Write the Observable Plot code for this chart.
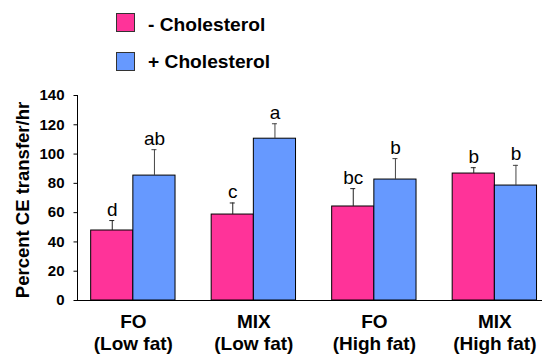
<!DOCTYPE html>
<html><head><meta charset="utf-8">
<script src="https://cdn.jsdelivr.net/npm/d3@7"></script>
<script src="https://cdn.jsdelivr.net/npm/@observablehq/plot@0.6"></script>
<style>
body{margin:0;background:#fff;font-family:"Liberation Sans",Arial,sans-serif;}
#wrap{width:542px;height:354px;position:relative;overflow:hidden;background:#fff}
#legend{position:relative;height:80px}
.sw{position:absolute;left:116px;width:19px;height:19px;border:1px solid #333;box-sizing:border-box}
.lt{position:absolute;left:148px;font-weight:bold;font-size:19.2px;line-height:1;white-space:nowrap;color:#000}
</style></head>
<body><div id="wrap"><div id="legend"></div><div id="chart"></div></div>
<script>
const diets = ["FO", "MIX", "FO", "MIX"];
const fats = ["(Low fat)", "(Low fat)", "(High fat)", "(High fat)"];
const seriesNames = ["- Cholesterol", "+ Cholesterol"];
const seriesColors = ["#FF3399", "#6699FF"];
const minusChol = [47.8, 58.7, 64.2, 86.7];
const minusSem = [6.8, 7.9, 12.2, 4.0];
const minusLetters = ["d", "c", "bc", "b"];
const plusChol = [85.3, 110.5, 82.6, 78.5];
const plusSem = [17.7, 10.2, 14.3, 13.8];
const plusLetters = ["ab", "a", "b", "b"];
const yTicks = [0, 20, 40, 60, 80, 100, 120, 140];
const yTitle = "Percent CE transfer/hr";

// legend
const legend = document.getElementById("legend");
seriesNames.forEach((name, i) => {
  const sw = document.createElement("div");
  sw.className = "sw";
  sw.style.top = (13 + i * 38.5) + "px";
  sw.style.background = seriesColors[i];
  legend.appendChild(sw);
  const t = document.createElement("div");
  t.className = "lt";
  t.style.top = (14.6 + i * 37.6) + "px";
  t.textContent = name;
  legend.appendChild(t);
});

const groups = diets.map((d, i) => d + " " + fats[i]);
const rows = [];
groups.forEach((g, i) => {
  rows.push({group: g, s: 0, value: minusChol[i], top: minusChol[i] + minusSem[i], letter: minusLetters[i]});
  rows.push({group: g, s: 1, value: plusChol[i], top: plusChol[i] + plusSem[i], letter: plusLetters[i]});
});
const A = rows.filter(d => d.s === 0);
const B = rows.filter(d => d.s === 1);

const r0 = 72.6, r1 = 554.6, pi = 0.3, po = 0.15;
const step = (r1 - r0) / (groups.length - pi + 2 * po);
const bw = step * (1 - pi);
const q = bw / 4;
const font = '"Liberation Sans", Arial, sans-serif';

const yAxisLine = (index, scales, values, dim) => {
  const l = document.createElementNS("http://www.w3.org/2000/svg", "line");
  const x = dim.marginLeft + 0.5;
  l.setAttribute("x1", x); l.setAttribute("x2", x);
  l.setAttribute("y1", scales.y(0) + 0.5);
  l.setAttribute("y2", scales.y(d3.max(yTicks)));
  l.setAttribute("stroke", "#000");
  return l;
};

const chart = Plot.plot({
  width: 542, height: 274,
  marginTop: 15, marginBottom: 54, marginLeft: 77, marginRight: 0,
  style: {fontFamily: font, background: "white", color: "#000"},
  x: {type: "band", domain: groups, range: [r0, r1], paddingInner: pi, paddingOuter: po, round: false, axis: null},
  y: {domain: [0, 140], axis: null},
  marks: [
    Plot.barY(A, {x: "group", y: "value", fill: seriesColors[0], stroke: "#000", strokeWidth: 1, insetRight: bw / 2}),
    Plot.barY(B, {x: "group", y: "value", fill: seriesColors[1], stroke: "#000", strokeWidth: 1, insetLeft: bw / 2}),
    Plot.ruleX(A, {x: "group", y1: "value", y2: "top", dx: -q, stroke: "#222"}),
    Plot.ruleX(B, {x: "group", y1: "value", y2: "top", dx: q, stroke: "#444"}),
    Plot.tickY(A, {x: "group", y: "top", insetLeft: q - 2.5, insetRight: bw - q - 2.5, stroke: "#222"}),
    Plot.tickY(B, {x: "group", y: "top", insetLeft: 3 * q - 2.5, insetRight: q - 2.5, stroke: "#444"}),
    Plot.text(A, {x: "group", y: "top", text: "letter", dx: -q, dy: -5, lineAnchor: "bottom", fontSize: 19, fill: "#000"}),
    Plot.text(B, {x: "group", y: "top", text: "letter", dx: q, dy: -5, lineAnchor: "bottom", fontSize: 19, fill: "#000"}),
    Plot.ruleY([0], {stroke: "#000"}),
    Plot.axisY({ticks: yTicks, tickSize: 3.5, tickPadding: 9.5, fontSize: 15, fontWeight: "bold", label: null}),
    yAxisLine,
    Plot.text(groups, {x: d => d, text: (d, i) => diets[i], frameAnchor: "bottom", lineAnchor: "bottom", dy: 27, fontSize: 19, fontWeight: "bold", fill: "#000"}),
    Plot.text(groups, {x: d => d, text: (d, i) => fats[i], frameAnchor: "bottom", lineAnchor: "bottom", dy: 49.5, fontSize: 19, fontWeight: "bold", fill: "#000"}),
    Plot.text([yTitle], {text: d => d, frameAnchor: "left", textAnchor: "middle", rotate: -90, dx: -54, dy: 2, fontSize: 18.5, fontWeight: "bold", fill: "#000"})
  ]
});
document.getElementById("chart").appendChild(chart);
</script>
</body></html>
